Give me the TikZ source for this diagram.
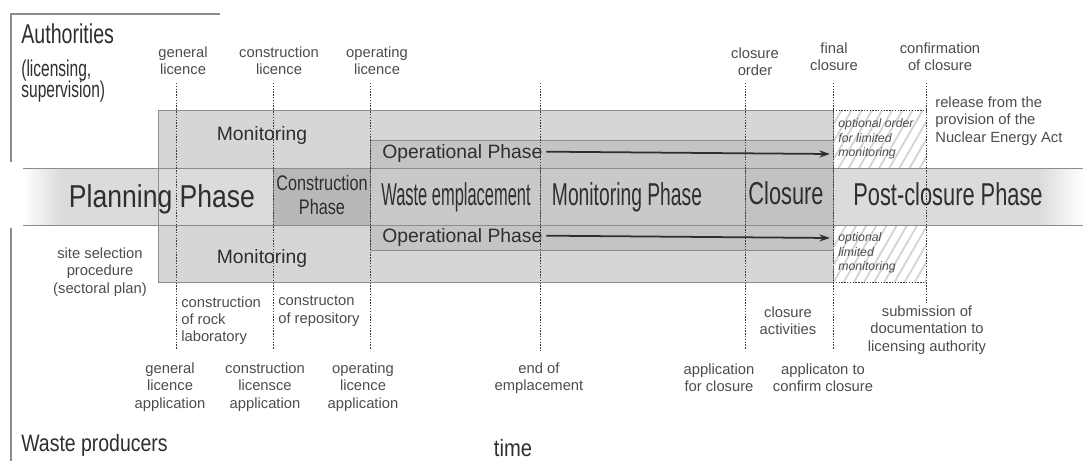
\documentclass[tikz,border=0pt]{standalone}
\usepackage{fontspec}
\setmainfont{Liberation Sans}
\usepackage{graphicx}
\definecolor{bandgray}{gray}{0.86}
\definecolor{mongray}{gray}{0.84}
\definecolor{opgray}{gray}{0.77}
\definecolor{congray}{gray}{0.72}
\definecolor{wastegray}{gray}{0.79}
\definecolor{closgray}{gray}{0.76}
\definecolor{edgegray}{gray}{0.55}
\definecolor{inkgray}{gray}{0.18}
\definecolor{lblgray}{gray}{0.3}
\newcommand{\condtxt}[2]{\scalebox{#1}[1]{#2}}
\usetikzlibrary{arrows.meta,patterns.meta}

\begin{document}
\begin{tikzpicture}[x=0.02cm,y=-0.02cm,
  lbl/.style={font=\fontsize{8.4}{9.8}\selectfont,text=lblgray,align=center,inner sep=0pt},
  phasetxt/.style={font=\fontsize{18}{20}\selectfont,text=inkgray,inner sep=0pt,anchor=base},
  boxtxt/.style={font=\fontsize{11}{13}\selectfont,text=inkgray,inner sep=0pt,anchor=base},
  sidetxt/.style={text=inkgray,inner sep=0pt,anchor=base west},
  hatchtxt/.style={font=\fontsize{7}{8.2}\selectfont\itshape,text=lblgray,align=left,inner sep=0pt,anchor=west},
  hatched/.style={pattern={Lines[angle=60,distance=5pt,line width=1pt]},pattern color=gray!35},
  tick/.style={draw=gray!45!black,line width=0.5pt,dash pattern=on 0.8pt off 0.8pt},
  oparrow/.style={draw=inkgray,line width=1pt,-{Stealth[length=6pt,width=4pt]}}
]
  \useasboundingbox (0,0) rectangle (1083,461);

  % frame of the two parties
  \draw[edgegray,line width=0.8pt] (220,14) -- (11,14) -- (11,162);
  \draw[edgegray,line width=0.8pt] (11,228) -- (11,461);

  % monitoring frames
  \filldraw[fill=mongray,draw=edgegray] (158,110) rectangle (833,168);
  \filldraw[fill=opgray,draw=edgegray] (370,140) rectangle (833,168);
  \filldraw[fill=mongray,draw=edgegray] (158,225) rectangle (833,282);
  \filldraw[fill=opgray,draw=edgegray] (370,225) rectangle (833,250);

  % hatched areas
  \fill[hatched] (833,110) rectangle (926,168);
  \fill[hatched] (833,225) rectangle (926,282);
  \draw[tick] (833,110) -- (926,110);
  \draw[tick] (833,282) -- (926,282);

  % phase band
  \fill[bandgray] (60,168) rectangle (1040,225);
  \shade[left color=white,right color=bandgray] (23,168) rectangle (60.5,225);
  \shade[left color=bandgray,right color=white] (1039.5,168) rectangle (1083,225);
  \filldraw[fill=congray,draw=edgegray] (273,168) rectangle (370,225);
  \filldraw[fill=wastegray,draw=edgegray] (370,168) rectangle (540,225);
  \filldraw[fill=wastegray,draw=edgegray] (540,168) rectangle (745,225);
  \filldraw[fill=closgray,draw=edgegray] (745,168) rectangle (833,225);
  \draw[edgegray] (23,168) -- (1083,168);
  \draw[edgegray] (23,225) -- (1083,225);
  \draw[edgegray] (158,110) -- (158,282);

  % time marks
  \foreach \name/\x/\b in {gl/176/350,cl/273/350,ol/370/350,ee/540/352,
                           co/745/350,fc/833/350,cc/926/303}{
    \coordinate (\name-top) at (\x,83);
    \coordinate (\name-bot) at (\x,\b);
    \draw[tick] (\name-top) -- (\name-bot);
  }

  % phases
  \node[phasetxt] (plan) at (162,207) {\condtxt{0.84}{Planning Phase}};
  \node[font=\fontsize{12}{14}\selectfont,text=inkgray,inner sep=0pt,align=center]
    (constr) at (322,195) {\condtxt{0.77}{Construction}\\\condtxt{0.77}{Phase}};
  \node[phasetxt] (waste) at (456,205) {\condtxt{0.52}{Waste emplacement}};
  \node[phasetxt] (monph) at (627,205) {\condtxt{0.61}{Monitoring Phase}};
  \node[phasetxt] (clos) at (786,204) {\condtxt{0.69}{Closure}};
  \node[phasetxt] (post) at (948,205) {\condtxt{0.69}{Post-closure Phase}};

  % monitoring and operation
  \node[boxtxt] (monU) at (262,140) {Monitoring};
  \node[boxtxt] (monL) at (262,263) {Monitoring};
  \node[boxtxt,anchor=base west] (opU) at (382,158) {Operational Phase};
  \node[boxtxt,anchor=base west] (opL) at (382,242) {Operational Phase};
  \coordinate (opUend) at (830,154);
  \coordinate (opLend) at (830,238);
  \draw[oparrow] ([xshift=2pt,yshift=3.6pt]opU.base east) -- (opUend);
  \draw[oparrow] ([xshift=2pt,yshift=3.6pt]opL.base east) -- (opLend);
  \node[hatchtxt] (optU) at (838,139) {optional order\\for limited\\monitoring};
  \node[hatchtxt] (optL) at (838,253) {optional\\limited\\monitoring};

  % parties
  \node[sidetxt,font=\fontsize{15.5}{17}\selectfont] (auth) at (21,43) {\condtxt{0.72}{Authorities}};
  \node[sidetxt,font=\fontsize{13}{15}\selectfont] (auth2) at (21,76) {\condtxt{0.68}{(licensing,}};
  \node[sidetxt,font=\fontsize{13}{15}\selectfont] (auth3) at (21,97) {\condtxt{0.68}{supervision)}};
  \node[sidetxt,font=\fontsize{13.5}{15}\selectfont] (prod) at (21,451) {\condtxt{0.82}{Waste producers}};
  \node[sidetxt,anchor=base,font=\fontsize{13.5}{15}\selectfont] (time) at (513,456) {\condtxt{0.85}{time}};

  % authority milestones
  \node[lbl] (genlic) at (183,61) {general\\licence};
  \node[lbl] (conlic) at (279,61) {construction\\licence};
  \node[lbl] (oplic) at (377,61) {operating\\licence};
  \node[lbl] (closord) at (755,62) {closure\\order};
  \node[lbl] (finclos) at (834,57) {final\\closure};
  \node[lbl] (confclos) at (940,57) {confirmation\\of closure};
  \node[lbl,align=left,anchor=west] (release) at (935,121)
    {release from the\\provision of the\\Nuclear Energy Act};

  % producer milestones
  \node[lbl] (site) at (100,272) {site selection\\procedure\\(sectoral plan)};
  \node[lbl,align=left,anchor=north west] (rocklab) at (181,296)
    {construction\\of rock\\laboratory};
  \node[lbl,align=left,anchor=north west] (repo) at (278,296)
    {constructon\\of repository};
  \node[lbl] (genapp) at (170,387) {general\\licence\\application};
  \node[lbl] (conapp) at (265,387) {construction\\licensce\\application};
  \node[lbl] (opapp) at (363,387) {operating\\licence\\application};
  \node[lbl] (endemp) at (539,378) {end of\\emplacement};
  \node[lbl] (closapp) at (719,378) {application\\for closure};
  \node[lbl] (confapp) at (823,378) {applicaton to\\confirm closure};
  \node[lbl] (closact) at (788,321) {closure\\activities};
  \node[lbl] (submit) at (927,330) {submission of\\documentation to\\licensing authority};
\end{tikzpicture}
\end{document}
